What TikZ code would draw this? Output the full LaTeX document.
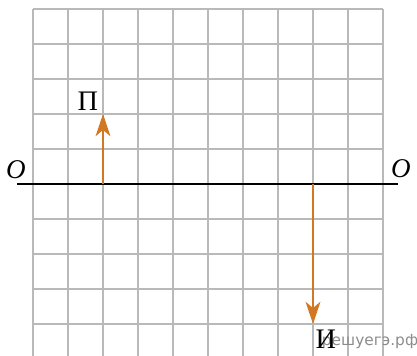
\documentclass[tikz,border=0pt]{standalone}
\usepackage{fontspec}
\setmainfont{Liberation Serif}
\newfontfamily\wmfont{DejaVu Sans}
\usepackage{xcolor}
\usetikzlibrary{arrows.meta}
\definecolor{gridgray}{RGB}{185,185,185}
\definecolor{vecorange}{RGB}{210,120,35}
\tikzset{
  gridline/.style={gridgray, line width=1.2pt},
  axisline/.style={black, line width=1.2pt},
  vecline/.style={vecorange, line width=1.7pt,
    -{Stealth[length=18pt, width=12pt, inset=5pt]}},
  bigletter/.style={font=\fontsize{23}{26}\selectfont},
  axislabel/.style={font=\fontsize{22}{25}\selectfont\itshape}
}
\begin{document}
\begin{tikzpicture}
  \useasboundingbox (-0.943,-4.914) rectangle (10.971,5.257);
  % grid
  \foreach \i in {0,...,10}
    \draw[gridline] (\i,-4.914) -- (\i,5);
  \foreach \j in {-4,...,5}
    \draw[gridline] (0,\j) -- (10,\j);
  % axis O--O
  \coordinate (axl) at (-0.457,0);
  \coordinate (axr) at (10.43,0);
  \draw[axisline] (axl) -- (axr);
  \node[axislabel] (oleft) at (-0.49,0.4) {O};
  \node[axislabel] (oright) at (10.51,0.43) {O};
  % vectors
  \coordinate (pbase) at (2,0);
  \coordinate (ptip) at (2,2);
  \coordinate (ibase) at (8,0);
  \coordinate (itip) at (8,-4);
  \draw[vecline] (pbase) -- (ptip);
  \draw[vecline] (ibase) -- (itip);
  \node[bigletter] (plabel) at (1.57,2.37) {П};
  \node[text=gray!90, font=\wmfont\fontsize{12.5}{14}\selectfont] (wmark) at (9.63,-4.49) {решуегэ.рф};
  \node[bigletter] (ilabel) at (8.37,-4.43) {И};
\end{tikzpicture}
\end{document}
